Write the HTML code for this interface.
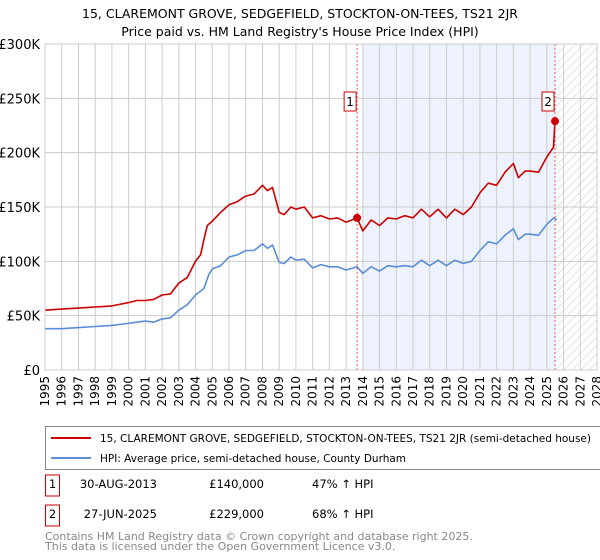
<!DOCTYPE html>
<html><head><meta charset="utf-8"><style>
body{margin:0;background:#fff;font-family:"Liberation Sans","DejaVu Sans",sans-serif;}
#wrap{position:relative;width:600px;height:560px;overflow:hidden;}
text{font-family:"DejaVu Sans","Liberation Sans",sans-serif;}
</style></head><body><div id="wrap">
<svg id="chart" width="600" height="560"></svg>
</div>
<script>
const redYears=[1995,1996,1997,1998,1999,2000,2000.5,2001,2001.5,2002,2002.5,2003,2003.5,2004,2004.3,2004.5,2004.7,2005,2005.5,2006,2006.5,2007,2007.5,2008,2008.3,2008.6,2009,2009.3,2009.7,2010,2010.5,2011,2011.5,2012,2012.5,2013,2013.66,2014,2014.5,2015,2015.5,2016,2016.5,2017,2017.5,2018,2018.5,2019,2019.5,2020,2020.5,2021,2021.5,2022,2022.5,2023,2023.3,2023.7,2024,2024.5,2025,2025.4,2025.49];
const redValues=[55,56,57,58,59,62,64,64,65,69,70,80,85,100,106,120,133,137,145,152,155,160,162,170,165,168,145,143,150,148,150,140,142,139,140,136,140,128,138,133,140,139,142,140,148,141,148,140,148,143,150,163,172,170,182,190,177,183,183,182,196,205,229];
const hpiYears=[1995,1996,1997,1998,1999,2000,2001,2001.5,2002,2002.5,2003,2003.5,2004,2004.5,2004.8,2005,2005.5,2006,2006.5,2007,2007.5,2008,2008.3,2008.6,2009,2009.3,2009.7,2010,2010.5,2011,2011.5,2012,2012.5,2013,2013.66,2014,2014.5,2015,2015.5,2016,2016.5,2017,2017.5,2018,2018.5,2019,2019.5,2020,2020.5,2021,2021.5,2022,2022.5,2023,2023.3,2023.7,2024,2024.5,2025,2025.4,2025.6];
const hpiValues=[38,38,39,40,41,43,45,44,47,48,55,60,69,75,88,93,96,104,106,110,110,116,112,115,99,98,104,101,102,94,97,95,95,92,95,89,95,91,96,95,96,95,101,96,101,96,101,98,100,110,118,116,124,130,120,125,125,124,134,140,138];
const yTicks=[0,50,100,150,200,250,300];
const yTickLabels=["£0","£50K","£100K","£150K","£200K","£250K","£300K"];
const saleYears=[2013.66,2025.49];
const saleValues=[140,229];
const saleLabels=["1","2"];

const NS="http://www.w3.org/2000/svg";
const svg=document.getElementById('chart');
const X0=45,X1=597,Y0=370,Y1=44;
const xs=y=>X0+(y-1995)*(X1-X0)/33;
const ys=v=>Y0-v*(Y0-Y1)/300;
function el(t,a,p){const e=document.createElementNS(NS,t);for(const k in a)e.setAttribute(k,a[k]);(p||svg).appendChild(e);return e;}

const defs=el('defs',{});
const pat=el('pattern',{id:'hatch',width:6,height:6,patternUnits:'userSpaceOnUse',patternTransform:'rotate(45)'},defs);
el('line',{x1:0,y1:0,x2:0,y2:6,stroke:'#c8c8c8','stroke-width':1},pat);

let r=el('rect',{x:xs(2014),y:Y1,width:xs(2025.5)-xs(2014),height:Y0-Y1,fill:'#eef2fc'});


r=el('rect',{x:xs(2025.5),y:Y1,width:X1-xs(2025.5),height:Y0-Y1,fill:'url(#hatch)'});



for(let yr=1995;yr<=2028;yr++){
  const l=el('line',{x1:xs(yr),x2:xs(yr),y1:Y1,y2:Y0,stroke:'#cccccc','stroke-width':1});
  
  
  const t=el('text',{x:0,y:0,'font-size':12,fill:'#000','text-anchor':'end',transform:`translate(${xs(yr)+4},${Y0+6}) rotate(-90)`});
  t.textContent=yr;
  
  
}
yTicks.forEach((v,i)=>{
  const l=el('line',{x1:X0,x2:X1,y1:ys(v),y2:ys(v),stroke:'#cccccc','stroke-width':1});
  
  
  const t=el('text',{x:X0-5,y:ys(v)+5,'font-size':13,fill:'#000','text-anchor':'end'});
  t.textContent=yTickLabels[i];
  
  
});

saleYears.forEach((yr,i)=>{
  const l=el('line',{x1:xs(yr),x2:xs(yr),y1:Y1,y2:Y0,stroke:'#e06060','stroke-width':1,'stroke-dasharray':'2,2'});
  
  
});

function path(xa,va,color,name){
  const d=xa.map((x,i)=>(i?'L':'M')+xs(x).toFixed(1)+','+ys(va[i]).toFixed(1)).join('');
  const p=el('path',{d,fill:'none',stroke:color,'stroke-width':1.6,'stroke-linejoin':'round'});
  
  
}
path(hpiYears,hpiValues,'#5b8ed6','hpi-line');
path(redYears,redValues,'#cc0000','property-price-line');

saleYears.forEach((yr,i)=>{
  const c=el('circle',{cx:xs(yr),cy:ys(saleValues[i]),r:4,fill:'#cc0000'});
  
  
  const g=el('g',{});
  
  
  el('rect',{x:xs(yr)-13,y:92,width:12,height:19,fill:'#fff',stroke:'#cc0000','stroke-width':1},g);
  const t=el('text',{x:xs(yr)-7,y:106,'font-size':12,'text-anchor':'middle',fill:'#000'},g);
  t.textContent=saleLabels[i];
});
el('rect',{x:X0,y:Y1,width:X1-X0,height:Y0-Y1,fill:'none',stroke:'#cccccc'});

function txt(x,y,s,size,fill,anchor,name){const t=el('text',{x,y,'font-size':size,fill,'text-anchor':anchor||'start'});t.textContent=s;return t;}
txt(300,18,'15, CLAREMONT GROVE, SEDGEFIELD, STOCKTON-ON-TEES, TS21 2JR',12.5,'#000','middle','chart-title');
txt(300,36,"Price paid vs. HM Land Registry's House Price Index (HPI)",12.5,'#000','middle','chart-subtitle');

const lg=el('g',{});


el('rect',{x:45.5,y:426.5,width:560,height:43,fill:'#fff',stroke:'#888'},lg);
el('line',{x1:51,x2:91,y1:438,y2:438,stroke:'#cc0000','stroke-width':2},lg);
el('line',{x1:51,x2:91,y1:458,y2:458,stroke:'#5b8ed6','stroke-width':2},lg);
let t=txt(100,442,'15, CLAREMONT GROVE, SEDGEFIELD, STOCKTON-ON-TEES, TS21 2JR (semi-detached house)',10.8,'#000','start','legend-entry-property');
t.setAttribute('textLength','491');
t.setAttribute('lengthAdjust','spacingAndGlyphs');
t=txt(100,462,'HPI: Average price, semi-detached house, County Durham',10.8,'#000','start','legend-entry-hpi');
t.setAttribute('textLength','306');
t.setAttribute('lengthAdjust','spacingAndGlyphs');

const rows=[["1","30-AUG-2013","£140,000","47% ↑ HPI"],["2","27-JUN-2025","£229,000","68% ↑ HPI"]];
rows.forEach((row,i)=>{
  const y=i?518:488;
  const b=el('rect',{x:45.5,y:y-13,width:14,height:21,fill:'#fff',stroke:'#cc0000'});
  
  
  txt(52.5,y,row[0],11.5,'#000','middle','sale-row-number');
  txt(157,y,row[1],11.5,'#000','end','sale-row-date');
  txt(264,y,row[2],11.5,'#000','end','sale-row-price');
  txt(312,y,row[3],11.5,'#000','start','sale-row-hpi-change');
});
txt(45,540,'Contains HM Land Registry data © Crown copyright and database right 2025.',11,'#888','start','footer-copyright');
txt(45,550,'This data is licensed under the Open Government Licence v3.0.',11,'#888','start','footer-licence');
</script></body></html>
